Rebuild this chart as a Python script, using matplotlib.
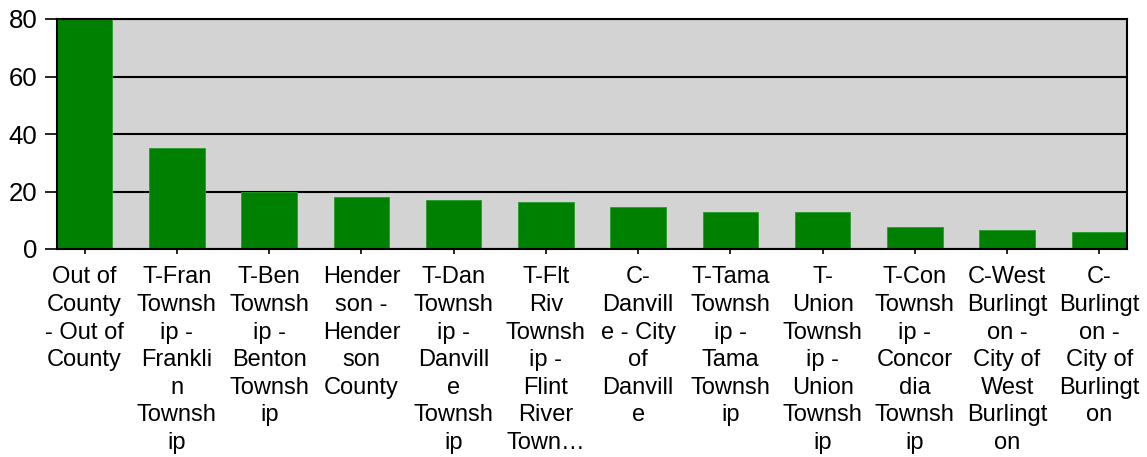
import matplotlib
matplotlib.use("Agg")
import matplotlib.pyplot as plt

categories = [
    "Out of\nCounty\n- Out of\nCounty",
    "T-Fran\nTownsh\nip -\nFrankli\nn\nTownsh\nip",
    "T-Ben\nTownsh\nip -\nBenton\nTownsh\nip",
    "Hender\nson -\nHender\nson\nCounty",
    "T-Dan\nTownsh\nip -\nDanvill\ne\nTownsh\nip",
    "T-Flt\nRiv\nTownsh\nip -\nFlint\nRiver\nTown\u2026",
    "C-\nDanvill\ne - City\nof\nDanvill\ne",
    "T-Tama\nTownsh\nip -\nTama\nTownsh\nip",
    "T-\nUnion\nTownsh\nip -\nUnion\nTownsh\nip",
    "T-Con\nTownsh\nip -\nConcor\ndia\nTownsh\nip",
    "C-West\nBurlingt\non -\nCity of\nWest\nBurlingt\non",
    "C-\nBurlingt\non -\nCity of\nBurlingt\non",
]
values = [80, 35, 20, 18, 17, 16.2, 14.7, 12.9, 12.7, 7.6, 6.6, 5.9]
yticks = [0, 20, 40, 60, 80]

plt.rcParams['font.family'] = ['Liberation Sans', 'DejaVu Sans']

fig = plt.figure(figsize=(11.47, 4.57), dpi=100)
ax = fig.add_axes([57/1147, 1 - 249/457, (1127-57)/1147, (249-19)/457])
ax.set_facecolor('#d3d3d3')

x = list(range(len(categories)))
ax.bar(x, values, width=0.6, color='#008000', edgecolor='#2a9a2a', linewidth=0.6, zorder=3)

ax.set_xlim(-0.3, len(categories) - 0.7)
ax.set_ylim(0, 80)
ax.set_yticks(yticks)
ax.set_yticklabels([str(v) for v in yticks], fontsize=18.5)
ax.set_xticks(x)
ax.set_xticklabels(categories, fontsize=17, linespacing=1.33, va='top')

ax.yaxis.grid(True, color='black', linewidth=1.5, zorder=1)
ax.set_axisbelow(True)
ax.tick_params(axis='y', length=9, width=1.2, pad=5)
ax.tick_params(axis='x', length=3.5, width=1.2, pad=9)
for s in ax.spines.values():
    s.set_color('black')
    s.set_linewidth(1.5)
    s.set_zorder(4)

fig.savefig('out.png', dpi=100)
